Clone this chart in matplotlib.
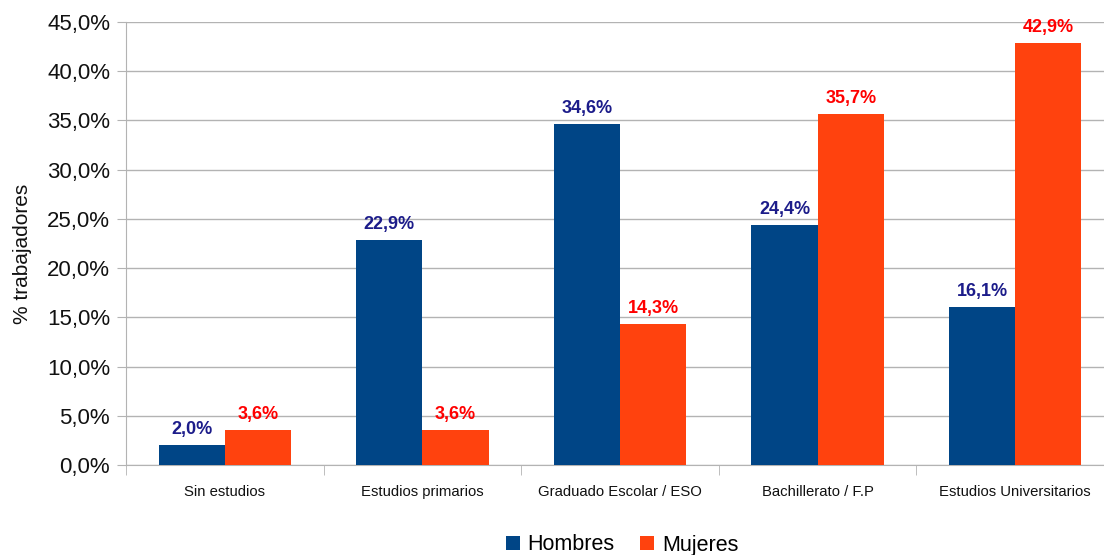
import numpy as np
import matplotlib.pyplot as plt
from matplotlib.ticker import FuncFormatter, FixedLocator

plt.rcParams['font.family'] = ['Liberation Sans', 'DejaVu Sans']

categorias = ["Sin estudios", "Estudios primarios", "Graduado Escolar / ESO",
              "Bachillerato / F.P", "Estudios Universitarios"]
hombres = [2.0, 22.9, 34.6, 24.4, 16.1]
mujeres = [3.6, 3.6, 14.3, 35.7, 42.9]

fig = plt.figure(figsize=(11.04, 5.55), dpi=100)
# el gráfico original está recortado por la derecha
ax = fig.add_axes([126 / 1104, 90 / 555, 988 / 1104, 443 / 555])

x = np.arange(len(categorias))
ancho = 0.335
b1 = ax.bar(x - ancho / 2, hombres, ancho, color='#004586', label='Hombres', zorder=3)
b2 = ax.bar(x + ancho / 2, mujeres, ancho, color='#ff420e', label='Mujeres', zorder=3)

for barras, col in ((b1, '#1c1c8a'), (b2, '#ff0000')):
    for b in barras:
        v = b.get_height()
        ax.annotate(f"{v:.1f}%".replace('.', ','), (b.get_x() + b.get_width() / 2, v),
                    xytext=(0, 5), textcoords='offset points', ha='center', va='bottom',
                    color=col, fontsize=13, fontweight='bold')

ax.set_xlim(-0.5, len(categorias) - 0.5)
ax.set_ylim(0, 45)
ax.set_yticks(np.arange(0, 46, 5))
ax.yaxis.set_major_formatter(FuncFormatter(lambda v, p: f"{v:.1f}%".replace('.', ',')))
ax.tick_params(axis='y', labelsize=16, length=6.5, color='#b3b3b3', labelcolor='#111111', pad=5)
ax.set_xticks(x)
ax.set_xticklabels(categorias, fontsize=10.7)
ax.tick_params(axis='x', length=0, pad=14.5, labelcolor='#111111')
ax.xaxis.set_minor_locator(FixedLocator(np.arange(-0.5, len(categorias), 1)))
ax.tick_params(axis='x', which='minor', length=7.2, color='#b3b3b3')

ax.grid(axis='y', color='#b3b3b3', linewidth=1, zorder=0)
for s in ('top', 'right'):
    ax.spines[s].set_visible(False)
ax.spines['left'].set_color('#b3b3b3')
ax.spines['bottom'].set_color('#b3b3b3')

fig.text(23 / 1104, 1 - 254 / 555, '% trabajadores', rotation=90, fontsize=15,
         ha='center', va='center', color='#111111')

fig.legend(loc='center', ncol=2, bbox_to_anchor=(622 / 1104, 1 - 545 / 555), frameon=False,
           fontsize=15.5, handlelength=0.65, handleheight=0.65, handletextpad=0.35,
           columnspacing=1.2)

fig.savefig('out.png', dpi=100)
